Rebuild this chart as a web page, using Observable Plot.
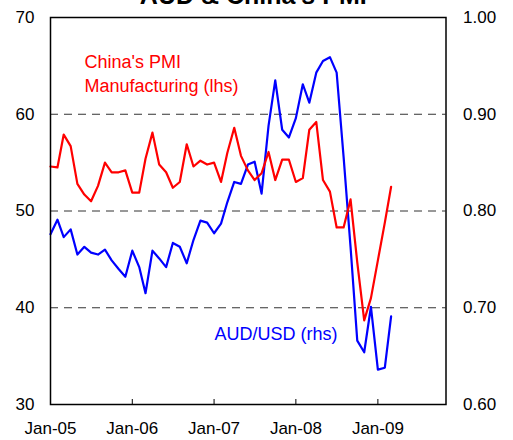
<!DOCTYPE html>
<html><head><meta charset="utf-8">
<script src="https://cdn.jsdelivr.net/npm/d3@7"></script>
<script src="https://cdn.jsdelivr.net/npm/@observablehq/plot@0.6"></script>
<style>
html,body{margin:0;padding:0;background:#fff;}
svg{overflow:visible;}
</style>
</head><body><div id="chart"></div>
<script>
// Monthly observations Jan-05 .. Mar-09
const startMonth = new Date(Date.UTC(2005, 0, 1));
const endMonth = new Date(Date.UTC(2009, 3, 1));
const months = d3.utcMonth.range(startMonth, endMonth);

// China's PMI Manufacturing (lhs)
const pmi = [
  54.6, 54.5, 57.9, 56.7, 52.8, 51.7, 51.0, 52.6, 55.0, 54.0, 54.0, 54.2,
  51.9, 51.9, 55.4, 58.1, 54.8, 54.0, 52.4, 53.0, 56.9, 54.6, 55.2, 54.8,
  55.0, 53.0, 56.0, 58.6, 55.7, 54.2, 53.2, 53.9, 56.1, 53.2, 55.3, 55.3,
  53.0, 53.4, 58.4, 59.2, 53.2, 52.0, 48.3, 48.3, 51.2, 44.7, 38.7, 41.0,
  44.9, 48.8, 52.5
];

// AUD/USD (rhs)
const aud = [
  0.776, 0.791, 0.773, 0.781, 0.755, 0.763, 0.757, 0.755, 0.760, 0.749, 0.740, 0.732,
  0.759, 0.742, 0.715, 0.759, 0.751, 0.742, 0.767, 0.763, 0.746, 0.770, 0.790, 0.788,
  0.777, 0.787, 0.809, 0.830, 0.828, 0.848, 0.851, 0.818, 0.888, 0.935, 0.884, 0.876,
  0.896, 0.931, 0.912, 0.943, 0.955, 0.959, 0.943, 0.856, 0.763, 0.666, 0.654, 0.701,
  0.636, 0.638, 0.691
];

const titleText = "AUD & China's PMI";
const pmiLabel = ["China's PMI", "Manufacturing (lhs)"];
const audLabel = "AUD/USD (rhs)";

const xTickDates = [2005, 2006, 2007, 2008, 2009].map(y => new Date(Date.UTC(y, 0, 1)));
const xTickLabels = ["Jan-05", "Jan-06", "Jan-07", "Jan-08", "Jan-09"];
const leftTicks = [30, 40, 50, 60, 70];
const rightTickLabels = ["0.60", "0.70", "0.80", "0.90", "1.00"];
const gridValues = [40, 50, 60];
const xDomain = [new Date(Date.UTC(2005, 0, 1)), new Date(Date.UTC(2009, 10, 1))];

// right axis 0.60..1.00 mapped onto left 30..70
const audToLeft = v => 30 + (v - 0.60) * 100;

const pmiRows = months.map((d, i) => ({date: d, value: pmi[i]}));
const audRows = months.map((d, i) => ({date: d, value: audToLeft(aud[i])}));

const font = "'Liberation Sans', Arial, sans-serif";

const chart = Plot.plot({
  width: 513,
  height: 440,
  marginLeft: 50,
  marginRight: 67.5,
  marginTop: 17,
  marginBottom: 36,
  style: {fontFamily: font, fontSize: "17px", color: "black", background: "white"},
  x: {type: "utc", domain: xDomain},
  y: {domain: [30, 70]},
  marks: [
    Plot.ruleY(gridValues, {stroke: "#333", strokeWidth: 1, strokeDasharray: "8,6"}),
    Plot.line(audRows, {x: "date", y: "value", stroke: "#0000ff", strokeWidth: 2.2}),
    Plot.line(pmiRows, {x: "date", y: "value", stroke: "#ff0000", strokeWidth: 2.2}),
    Plot.frame({stroke: "black", strokeWidth: 1.5}),
    Plot.axisX(xTickDates, {anchor: "bottom", tickSize: -5, tickFormat: () => "", label: null}),
    Plot.axisX(xTickDates, {anchor: "bottom", tickSize: 0, tickPadding: 17, label: null,
      tickFormat: d => xTickLabels[xTickDates.findIndex(t => +t === +d)], fontSize: 17}),
    Plot.axisY(leftTicks, {anchor: "left", tickSize: 0, tickPadding: 16, label: null, fontSize: 17}),
    Plot.axisY(leftTicks, {anchor: "right", tickSize: 0, tickPadding: 17, label: null, fontSize: 17,
      tickFormat: d => rightTickLabels[leftTicks.indexOf(d)]}),
    Plot.text([titleText], {frameAnchor: "top", dx: 5, dy: -13.5, lineAnchor: "bottom",
      fontSize: 25, fontWeight: "bold", fill: "black"}),
    Plot.text([pmiLabel.join("\n")], {frameAnchor: "top-left", dx: 34, dy: 34, lineAnchor: "top",
      textAnchor: "start", fontSize: 18, lineHeight: 1.3, fill: "#ff0000"}),
    Plot.text([audLabel], {frameAnchor: "top-left", dx: 164, dy: 310, lineAnchor: "top",
      textAnchor: "start", fontSize: 18, fill: "#0000ff"})
  ]
});
document.getElementById("chart").appendChild(chart);
</script>
</body></html>
